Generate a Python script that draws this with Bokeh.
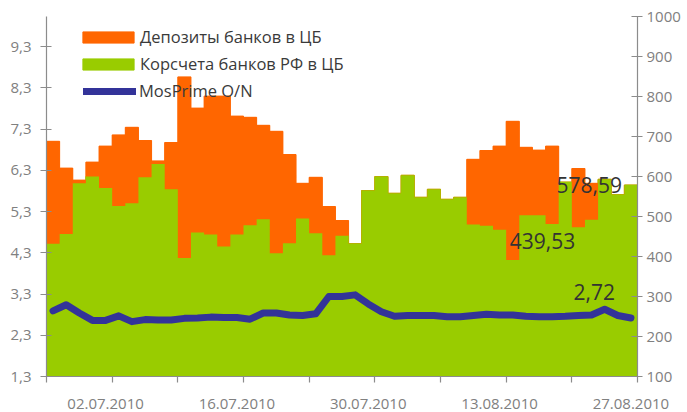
from bokeh.plotting import figure
from bokeh.models import (Range1d, LinearAxis, FixedTicker, Legend, LegendItem,
                          ColumnDataSource, CustomJSTickFormatter)
from bokeh.core.properties import value
from bokeh.embed import file_html
from bokeh.resources import INLINE

# ---------------- data ----------------
dates = ["28.06.2010", "29.06.2010", "30.06.2010", "01.07.2010", "02.07.2010",
         "05.07.2010", "06.07.2010", "07.07.2010", "08.07.2010", "09.07.2010",
         "12.07.2010", "13.07.2010", "14.07.2010", "15.07.2010", "16.07.2010",
         "19.07.2010", "20.07.2010", "21.07.2010", "22.07.2010", "23.07.2010",
         "26.07.2010", "27.07.2010", "28.07.2010", "29.07.2010", "30.07.2010",
         "02.08.2010", "03.08.2010", "04.08.2010", "05.08.2010", "06.08.2010",
         "09.08.2010", "10.08.2010", "11.08.2010", "12.08.2010", "13.08.2010",
         "16.08.2010", "17.08.2010", "18.08.2010", "19.08.2010", "20.08.2010",
         "23.08.2010", "24.08.2010", "25.08.2010", "26.08.2010", "27.08.2010"]

# Корсчета банков РФ в ЦБ, млрд руб.
corr_accounts = [432, 456, 583, 600, 571, 526, 533, 598, 631, 568,
                 396, 460, 455, 425, 455, 478, 493, 408, 433, 495,
                 458, 403, 452, 432, 565, 600, 558, 603, 548, 568,
                 543, 548, 480, 477, 467, 391, 503, 503, 481, 586,
                 473, 492, 593, 555, 578.59]

# Депозиты банков в ЦБ, млрд руб.
deposits = [256, 165, 8, 36, 105, 178, 190, 92, 8, 117,
            453, 311, 346, 376, 296, 270, 235, 305, 222, 88,
            140, 122, 38, 0, 0, 0, 0, 0, 0, 0,
            0, 0, 163, 188, 209, 347, 170, 163, 195, 0,
            147, 91, 0, 0, 0]

# MosPrime O/N, %
mosprime = [2.89, 3.04, 2.84, 2.66, 2.66, 2.77, 2.63, 2.68, 2.67, 2.67,
            2.71, 2.72, 2.74, 2.73, 2.73, 2.69, 2.84, 2.84, 2.79, 2.78,
            2.82, 3.24, 3.24, 3.28, 3.06, 2.87, 2.76, 2.78, 2.78, 2.78,
            2.75, 2.75, 2.78, 2.81, 2.79, 2.79, 2.76, 2.75, 2.75, 2.76,
            2.78, 2.79, 2.93, 2.78, 2.72]

labeled_dates = ["02.07.2010", "16.07.2010", "30.07.2010", "13.08.2010", "27.08.2010"]
left_ticks = [1.3, 2.3, 3.3, 4.3, 5.3, 6.3, 7.3, 8.3, 9.3]
right_ticks = [100, 200, 300, 400, 500, 600, 700, 800, 900, 1000]

series_names = ["Депозиты банков в ЦБ", "Корсчета банков РФ в ЦБ", "MosPrime O/N"]
extra_label_date = "16.08.2010"
extra_label_value = 439.53

# ---------------- styling ----------------
ORANGE = "#FF6600"
GREEN = "#99CC00"
NAVY = "#333399"
AXIS = "#8C8C8C"
TICKTXT = "#808080"
FONT = "Open Sans"

n = len(dates)
xs = list(range(n))
totals = [c + d for c, d in zip(corr_accounts, deposits)]

src = ColumnDataSource(dict(x=xs, corr=corr_accounts, total=totals, rate=mosprime))
# same bars as one seamless outline per series (hides hairline seams between bars)
step_src = ColumnDataSource(dict(
    edge=[i - 0.5 for i in range(n + 1)],
    zero=[0] * (n + 1),
    corr=corr_accounts + corr_accounts[-1:],
    total=totals + totals[-1:],
))

p = figure(width=687, height=412, output_backend="svg", toolbar_location=None,
           x_range=Range1d(-0.5, n - 0.5), y_range=Range1d(1.3, 10.03),
           min_border_left=46, min_border_right=50, min_border_top=16,
           min_border_bottom=36)
p.extra_y_ranges = {"right": Range1d(100, 1000)}
p.outline_line_color = None
p.xgrid.visible = False
p.ygrid.visible = False
p.background_fill_color = "white"

# stacked bars: orange (deposits) sits on top of green (corr. accounts)
r_orange = p.vbar(x="x", bottom=0, top="total", width=1.0, source=src,
                  y_range_name="right", fill_color=ORANGE, line_color=ORANGE,
                  line_width=1)
r_green = p.vbar(x="x", bottom=0, top="corr", width=1.0, source=src,
                 y_range_name="right", fill_color=GREEN, line_color=GREEN,
                 line_width=1)
p.varea_step(x="edge", y1="zero", y2="total", step_mode="after",
             source=step_src, y_range_name="right", fill_color=ORANGE)
p.varea_step(x="edge", y1="zero", y2="corr", step_mode="after",
             source=step_src, y_range_name="right", fill_color=GREEN)
r_line = p.line(x="x", y="rate", source=src, line_color=NAVY, line_width=7,
                line_join="round", line_cap="round")

# ---- axes ----
def style_axis(ax):
    ax.axis_line_color = AXIS
    ax.axis_line_width = 1.2
    ax.major_tick_line_color = AXIS
    ax.major_tick_line_width = 1.2
    ax.minor_tick_line_color = None
    ax.major_label_text_font = FONT
    ax.major_label_text_font_size = "15px"
    ax.major_label_text_color = TICKTXT

yl = p.yaxis[0]
style_axis(yl)
yl.ticker = FixedTicker(ticks=left_ticks)
yl.formatter = CustomJSTickFormatter(code="return tick.toFixed(1).replace('.', ',');")
yl.major_tick_in = 5
yl.major_tick_out = 6
yl.major_label_standoff = 9

yr = LinearAxis(y_range_name="right", ticker=FixedTicker(ticks=right_ticks))
style_axis(yr)
yr.major_tick_in = 6
yr.major_tick_out = 5
yr.major_label_standoff = 4
p.add_layout(yr, "right")

xa = p.xaxis[0]
style_axis(xa)
label_idx = [dates.index(d) for d in labeled_dates]
xa.ticker = FixedTicker(ticks=label_idx,
                        minor_ticks=[i - 0.5 for i in range(0, n + 1, 5)])
xa.major_label_overrides = {i: dates[i] for i in label_idx}
xa.major_tick_in = 0
xa.major_tick_out = 0
xa.minor_tick_line_color = AXIS
xa.minor_tick_line_width = 1.2
xa.minor_tick_in = 0
xa.minor_tick_out = 6
xa.major_label_standoff = 16

# ---- data labels ----
def fmt(v):
    return ("%.2f" % v).replace(".", ",")

lab_font = dict(text_font=value(FONT), text_font_size="21px", text_color="#333333",
                text_baseline="middle")
p.text(x=[n - 1], y=[corr_accounts[-1]], text=[fmt(corr_accounts[-1])],
       y_range_name="right", text_align="right", x_offset=-9, **lab_font)
p.text(x=[dates.index(extra_label_date)], y=[extra_label_value],
       text=[fmt(extra_label_value)], y_range_name="right",
       text_align="left", x_offset=-3, **lab_font)
p.text(x=[n - 1], y=[mosprime[-1]], text=[fmt(mosprime[-1])],
       text_align="right", x_offset=-16, y_offset=-26, **lab_font)

# ---- legend (two blocks: bar keys and line key, so both keys get the same length) ----
legend_style = dict(padding=0, margin=0, spacing=4, label_height=12,
                    label_text_font=FONT, label_text_font_size="16.5px",
                    label_text_color="#3A3A3A", background_fill_alpha=0,
                    border_line_color=None)
legend_bars = Legend(items=[
    LegendItem(label=series_names[0], renderers=[r_orange], index=0),
    LegendItem(label=series_names[1], renderers=[r_green], index=0),
], location=(30, 301), glyph_width=64, glyph_height=14, label_standoff=-2,
    **legend_style)
legend_line = Legend(items=[
    LegendItem(label=series_names[2], renderers=[r_line]),
], location=(37, 274), glyph_width=53, glyph_height=12, label_standoff=3,
    **legend_style)
p.add_layout(legend_bars)
p.add_layout(legend_line)

open("out.html", "w").write(file_html(p, INLINE))
